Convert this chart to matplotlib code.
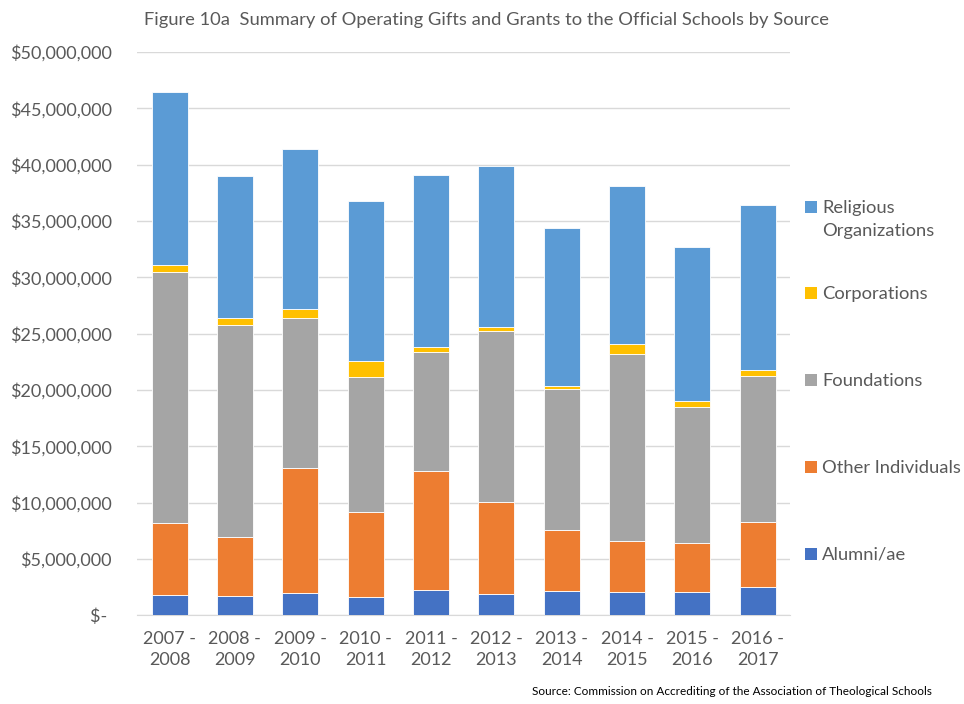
import numpy as np
import matplotlib.pyplot as plt
from matplotlib.patches import Rectangle

plt.rcParams['font.family'] = ['Lato', 'DejaVu Sans']

years = ['2007 -\n2008', '2008 -\n2009', '2009 -\n2010', '2010 -\n2011', '2011 -\n2012',
         '2012 -\n2013', '2013 -\n2014', '2014 -\n2015', '2015 -\n2016', '2016 -\n2017']

# values in millions of dollars
alumni = [1.83, 1.71, 1.96, 1.65, 2.28, 1.92, 2.19, 2.10, 2.10, 2.54]
other_individuals = [6.36, 5.26, 11.12, 7.52, 10.50, 8.17, 5.41, 4.47, 4.35, 5.71]
foundations = [22.29, 18.80, 13.30, 11.99, 10.59, 15.18, 12.46, 16.65, 12.07, 12.99]
corporations = [0.61, 0.64, 0.83, 1.43, 0.45, 0.35, 0.27, 0.86, 0.53, 0.54]
religious = [15.38, 12.63, 14.21, 14.22, 15.28, 14.28, 14.05, 14.03, 13.64, 14.67]

series = [
    ('Alumni/ae', alumni, '#4472C4'),
    ('Other Individuals', other_individuals, '#ED7D31'),
    ('Foundations', foundations, '#A5A5A5'),
    ('Corporations', corporations, '#FFC000'),
    ('Religious\nOrganizations', religious, '#5B9BD5'),
]

text_color = '#595959'
W, H = 964, 704

fig = plt.figure(figsize=(W / 100, H / 100), dpi=100)
ax = fig.add_axes([0.142, 0.126, 0.678, 0.8])

x = np.arange(len(years))
bottom = np.zeros(len(years))
for name, vals, color in series:
    vals = np.array(vals) * 1e6
    ax.bar(x, vals, width=0.55, bottom=bottom, color=color, edgecolor='white',
           linewidth=0.6, zorder=3)
    bottom += vals

ax.set_xlim(-0.5, len(years) - 0.5)
ax.set_ylim(0, 50e6)
ax.set_yticks(np.arange(0, 50e6 + 1, 5e6))
ax.set_yticklabels(['$- '] + [f'${v:,.0f}' for v in np.arange(5e6, 50e6 + 1, 5e6)])
ax.set_xticks(x)
ax.set_xticklabels(years, linespacing=1.45)
ax.tick_params(axis='both', length=0, labelsize=13, labelcolor=text_color)
ax.tick_params(axis='y', pad=18)
ax.tick_params(axis='x', pad=11)
ax.grid(axis='y', color='#d9d9d9', linewidth=1, zorder=0)
for side in ['top', 'right', 'left']:
    ax.spines[side].set_visible(False)
ax.spines['bottom'].set_color('#d9d9d9')

# legend on the right, top entry first, one square per series
legend_y = [207, 293, 380, 467, 554]
for (name, vals, color), ly in zip(series[::-1], legend_y):
    fig.add_artist(Rectangle((805 / W, 1 - (ly + 6) / H), 12 / W, 12 / H,
                             transform=fig.transFigure, facecolor=color, edgecolor='none'))
    fig.text(822 / W, 1 - (ly - 7) / H, name, ha='left', va='top', fontsize=13.2,
             color=text_color, linespacing=1.5)

fig.text(0.505, 0.972, 'Figure 10a  Summary of Operating Gifts and Grants to the Official Schools by Source',
         ha='center', va='center', fontsize=13.2, color=text_color)
fig.text(0.967, 0.01, 'Source: Commission on Accrediting of the Association of Theological Schools',
         ha='right', va='bottom', fontsize=8.5, color='black')

fig.savefig('out.png', dpi=100)
